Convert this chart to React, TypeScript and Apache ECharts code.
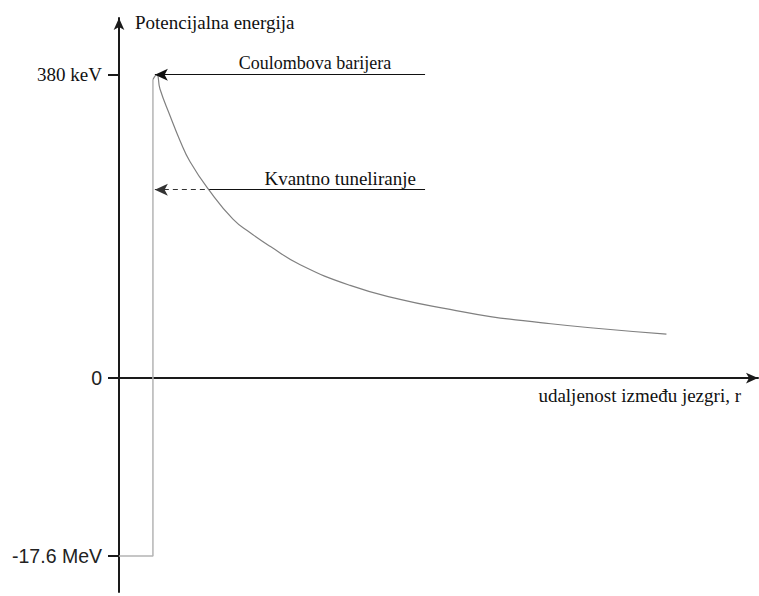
import React, { useEffect, useRef } from "react";
import * as echarts from "echarts";

// Axis extents (x: relative distance, y: energy in display units, 380 = 380 keV)
const xMin = 0;
const xMax = 99.8;
const yMin = -268;
const yMax = 451;

// Tick marks on the energy axis and their labels
const yTickValues = [-223, 0, 380];
const yTickLabels = ["-17.6 MeV", "0", "380 keV"];

// Potential well (nuclear attraction) part
const wellPoints: [number, number][] = [
  [0, -223],
  [5.3, -223],
  [5.3, 374],
];

// Coulomb barrier curve
const barrierX = [5.3, 5.9, 6.4, 8.0, 9.5, 11.1, 14.1, 17.8, 20.5, 23.6, 28.3, 36.1, 43.9, 51.7, 58.0, 65.8, 73.6, 85.5];
const barrierY = [374, 380, 362, 328, 298, 271, 235, 199, 182, 165, 142, 116, 98.5, 86, 77, 69.5, 63, 55];

// Annotations
const coulombLevel = 380;
const tunnelLevel = 236;
const annotationStartX = 5.6;
const annotationEndX = 47.8;
const tunnelCrossX = 14.1;
const coulombText = "Coulombova barijera";
const tunnelText = "Kvantno tuneliranje";
const yAxisName = "Potencijalna energija";
const xAxisName = "udaljenost između jezgri, r";

export default function App() {
  const ref = useRef<HTMLDivElement>(null);

  useEffect(() => {
    if (!ref.current) return;
    const chart = echarts.init(ref.current, null, { renderer: "svg" });
    const serif = "'Liberation Serif', 'Times New Roman', serif";
    const sans = "'Liberation Sans', Arial, sans-serif";
    const axisColor = "#1a1a1a";

    const curve = barrierX.map((x, i) => [x, barrierY[i]]);

    chart.setOption({
      animation: false,
      backgroundColor: "#ffffff",
      grid: { left: 119, right: 1, top: 18, bottom: 4, containLabel: false },
      xAxis: {
        type: "value",
        min: xMin,
        max: xMax,
        name: xAxisName,
        nameLocation: "end",
        nameGap: -17,
        nameTextStyle: {
          fontFamily: serif,
          fontSize: 19,
          color: "#111",
          align: "right",
          verticalAlign: "top",
          padding: [8, 0, 0, 0],
        },
        axisLine: {
          onZero: true,
          symbol: ["none", "arrow"],
          symbolSize: [8, 12],
          lineStyle: { color: axisColor, width: 2 },
        },
        axisTick: { show: false },
        axisLabel: { show: false },
        splitLine: { show: false },
      },
      yAxis: {
        type: "value",
        min: yMin,
        max: yMax,
        name: yAxisName,
        nameLocation: "end",
        nameGap: -4,
        nameTextStyle: {
          fontFamily: serif,
          fontSize: 19,
          color: "#111",
          align: "left",
          verticalAlign: "middle",
          padding: [0, 0, 0, 16],
        },
        axisLine: {
          show: true,
          onZero: false,
          symbol: ["none", "arrow"],
          symbolSize: [8, 12],
          lineStyle: { color: axisColor, width: 2 },
        },
        axisTick: {
          show: true,
          customValues: yTickValues,
          length: 11,
          inside: false,
          lineStyle: { color: axisColor, width: 2 },
        },
        axisLabel: {
          show: true,
          customValues: yTickValues,
          margin: 17,
          formatter: (v: number) => {
            const i = yTickValues.indexOf(v);
            if (i < 0) return "";
            const style = yTickLabels[i].indexOf("keV") >= 0 ? "s" : "n";
            return "{" + style + "|" + yTickLabels[i] + "}";
          },
          rich: {
            s: { fontFamily: serif, fontSize: 19, color: "#111" },
            n: { fontFamily: sans, fontSize: 19.5, color: "#222" },
          },
        },
        splitLine: { show: false },
      },
      series: [
        {
          type: "line",
          data: wellPoints,
          showSymbol: false,
          silent: true,
          lineStyle: { color: "#b4b4b4", width: 1.5 },
        },
        {
          type: "line",
          data: curve,
          showSymbol: false,
          silent: true,
          smooth: 0.5,
          lineStyle: { color: "#808080", width: 1.2 },
          markLine: {
            silent: true,
            symbol: ["arrow", "none"],
            symbolSize: [9, 13],
            lineStyle: { color: "#111", width: 1, type: "solid" },
            label: {
              show: true,
              position: "middle",
              fontFamily: serif,
              fontSize: 18,
              color: "#111",
              distance: 3,
            },
            data: [
              [
                {
                  coord: [annotationStartX, coulombLevel],
                  label: { formatter: coulombText, offset: [25, 0], fontFamily: serif, fontSize: 18 },
                },
                { coord: [annotationEndX, coulombLevel] },
              ],
              [
                {
                  coord: [annotationStartX, tunnelLevel],
                  lineStyle: { type: [5, 4], color: "#333" },
                  label: { show: false },
                },
                { coord: [tunnelCrossX, tunnelLevel] },
              ],
              [
                {
                  coord: [tunnelCrossX, tunnelLevel],
                  symbol: "none",
                  label: { formatter: tunnelText, offset: [23, 1], fontFamily: serif, fontSize: 19 },
                },
                { coord: [annotationEndX, tunnelLevel], symbol: "none" },
              ],
            ],
          },
        },
      ],
    });

    return () => chart.dispose();
  }, []);

  return (
    <div
      ref={ref}
      style={{ position: "fixed", left: 0, top: 0, width: 759, height: 596, background: "#fff" }}
    />
  );
}
